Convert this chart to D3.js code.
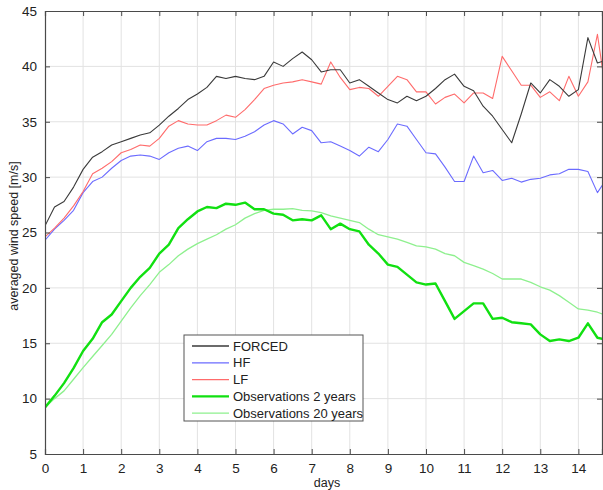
<!DOCTYPE html>
<html>
<head>
<meta charset="utf-8">
<script src="https://cdn.jsdelivr.net/npm/d3@7"></script>
<style>
  html, body { margin: 0; padding: 0; background: #fff; }
  svg { display: block; font-family: "Liberation Sans", Arial, Helvetica, sans-serif; }
</style>
</head>
<body>
<svg id="chart" width="603" height="490"></svg>
<script>
// time axis in days, sampled every quarter day
const days = d3.range(0, 14.76, 0.25);

const forced = [25.6, 27.3, 27.8, 29.1, 30.7, 31.8, 32.3, 32.9, 33.2, 33.5, 33.8, 34.0, 34.7, 35.5, 36.2, 37.0,
  37.5, 38.1, 39.1, 38.9, 39.1, 38.9, 38.8, 39.1, 40.4, 40.0, 40.7, 41.3, 40.6, 39.5, 39.7, 39.7,
  38.5, 38.8, 38.2, 37.6, 37.0, 36.7, 37.3, 36.9, 37.3, 38.0, 38.8, 39.3, 38.2, 37.8, 36.4, 35.5,
  34.3, 33.1, 35.7, 38.5, 37.6, 38.8, 38.2, 37.3, 37.9, 42.6, 40.3, 40.6];

const hf = [24.3, 25.3, 26.1, 27.0, 28.6, 29.6, 30.0, 30.8, 31.5, 31.9, 32.0, 31.9, 31.6, 32.2, 32.6, 32.8,
  32.4, 33.2, 33.5, 33.5, 33.4, 33.7, 34.1, 34.7, 35.1, 34.8, 33.9, 34.5, 34.2, 33.1, 33.2, 32.8,
  32.4, 31.9, 32.7, 32.3, 33.4, 34.8, 34.6, 33.4, 32.2, 32.1, 30.9, 29.6, 29.6, 31.9, 30.4, 30.6,
  29.7, 29.9, 29.55, 29.8, 29.9, 30.2, 30.3, 30.7, 30.7, 30.5, 28.6, 29.9];

const lf = [24.6, 25.4, 26.3, 27.4, 28.7, 30.3, 30.8, 31.4, 32.2, 32.5, 32.9, 32.8, 33.5, 34.6, 35.1, 34.8,
  34.7, 34.7, 35.1, 35.6, 35.4, 36.1, 37.0, 38.0, 38.3, 38.5, 38.6, 38.8, 38.6, 38.4, 40.4, 39.0,
  37.9, 38.1, 38.0, 37.3, 38.2, 39.1, 38.8, 37.7, 37.7, 36.6, 37.2, 37.5, 36.7, 37.6, 37.6, 37.1,
  40.9, 39.6, 38.3, 38.3, 37.2, 37.7, 36.9, 39.1, 37.3, 38.6, 42.9, 37.0];

const obs2 = [9.2, 10.25, 11.4, 12.75, 14.3, 15.4, 16.9, 17.6, 18.8, 20.0, 21.0, 21.8, 23.1, 23.9, 25.4, 26.2,
  26.9, 27.3, 27.2, 27.6, 27.5, 27.7, 27.1, 27.1, 26.7, 26.6, 26.1, 26.2, 26.1, 26.55, 25.3, 25.8,
  25.3, 25.1, 23.9, 23.1, 22.1, 21.9, 21.2, 20.5, 20.3, 20.4, 18.8, 17.2, 17.9, 18.6, 18.6, 17.2,
  17.3, 16.9, 16.8, 16.7, 15.8, 15.2, 15.35, 15.2, 15.5, 16.8, 15.5, 15.3];

const obs20 = [9.2, 10.0, 10.7, 11.75, 12.8, 13.8, 14.8, 15.8, 17.0, 18.2, 19.3, 20.3, 21.4, 22.1, 22.9, 23.5,
  24.0, 24.4, 24.8, 25.3, 25.7, 26.3, 26.7, 27.0, 27.1, 27.1, 27.15, 27.0, 26.95, 26.8, 26.5, 26.3,
  26.1, 25.9, 25.3, 24.8, 24.6, 24.4, 24.1, 23.8, 23.7, 23.5, 23.1, 22.9, 22.3, 22.0, 21.7, 21.3,
  20.8, 20.8, 20.8, 20.5, 20.1, 19.8, 19.3, 18.7, 18.1, 18.0, 17.8, 17.5];

const seriesNames = ["FORCED", "HF", "LF", "Observations 2 years", "Observations 20 years"];
const seriesValues = [forced, hf, lf, obs2, obs20];
const seriesColors = ["#3a3a3a", "#6b6bff", "#ff6b6b", "#11e011", "#8ef08e"];
const seriesWidths = [1.1, 1.1, 1.1, 2.4, 1.3];

const xTicks = d3.range(0, 15, 1);
const yTicks = d3.range(5, 46, 5);

const svg = d3.select("#chart");
const plotLeft = 45, plotRight = 602, plotTop = 11, plotBottom = 454;
const xMax = 14.62;

const x = d3.scaleLinear().domain([0, xMax]).range([plotLeft, plotRight]);
const y = d3.scaleLinear().domain([5, 45]).range([plotBottom, plotTop]);

// clip region for the plot area
svg.append("defs").append("clipPath").attr("id", "plotClip")
  .append("rect").attr("x", plotLeft).attr("y", plotTop)
  .attr("width", plotRight - plotLeft).attr("height", plotBottom - plotTop);

// grid
const grid = svg.append("g");
grid.selectAll("line.gx").data(xTicks.filter(d => d > 0)).join("line")
  .attr("x1", d => x(d)).attr("x2", d => x(d)).attr("y1", plotTop).attr("y2", plotBottom)
  .attr("stroke", "#e2e2e2").attr("stroke-width", 1);
grid.selectAll("line.gy").data(yTicks.filter(d => d > 5 && d < 45)).join("line")
  .attr("y1", d => y(d)).attr("y2", d => y(d)).attr("x1", plotLeft).attr("x2", plotRight)
  .attr("stroke", "#e2e2e2").attr("stroke-width", 1);

// series lines
const line = d3.line().x((d, i) => x(days[i])).y(d => y(d));
const plot = svg.append("g").attr("clip-path", "url(#plotClip)");
// observations first so the model lines sit above them
const order = [4, 3, 1, 2, 0];
order.forEach(k => {
  plot.append("path").datum(seriesValues[k])
    .attr("d", line).attr("fill", "none")
    .attr("stroke", seriesColors[k]).attr("stroke-width", seriesWidths[k])
    .attr("stroke-linejoin", "round");
});

// box axes (ticks point inward)
const axisColor = "#4a4a4a";
const xAxis = svg.append("g").attr("transform", `translate(0,${plotBottom})`)
  .call(d3.axisBottom(x).tickValues(xTicks).tickFormat(d3.format("d")).tickSize(-5).tickPadding(9));
const xTop = svg.append("g").attr("transform", `translate(0,${plotTop})`)
  .call(d3.axisTop(x).tickValues(xTicks).tickFormat("").tickSize(-5));
const yAxis = svg.append("g").attr("transform", `translate(${plotLeft},0)`)
  .call(d3.axisLeft(y).tickValues(yTicks).tickFormat(d3.format("d")).tickSize(-5).tickPadding(8));
const yRight = svg.append("g").attr("transform", `translate(${plotRight},0)`)
  .call(d3.axisRight(y).tickValues(yTicks).tickFormat("").tickSize(-5));

[xAxis, xTop, yAxis, yRight].forEach(g => {
  g.select(".domain").attr("stroke", axisColor).attr("stroke-width", 1.2);
  g.selectAll(".tick line").attr("stroke", axisColor);
  g.selectAll(".tick text").attr("fill", "#222").style("font-size", "13.5px")
    .style("font-family", "'Liberation Sans', Arial, sans-serif");
});

// axis titles
svg.append("text").attr("x", 327).attr("y", 487).attr("text-anchor", "middle")
  .attr("fill", "#222").style("font-size", "12.5px").text("days");
svg.append("text").attr("transform", "translate(18,236) rotate(-90)")
  .attr("text-anchor", "middle").attr("fill", "#222").style("font-size", "12.5px")
  .text("averaged wind speed [m/s]");

// legend
const lg = svg.append("g").attr("transform", "translate(184,335)");
lg.append("rect").attr("width", 179).attr("height", 86)
  .attr("fill", "#fff").attr("stroke", "#555").attr("stroke-width", 1);
seriesNames.forEach((name, i) => {
  const yy = 11 + i * 16.8;
  lg.append("line").attr("x1", 8).attr("x2", 45).attr("y1", yy).attr("y2", yy)
    .attr("stroke", seriesColors[i]).attr("stroke-width", i === 3 ? 2.2 : 1.3);
  lg.append("text").attr("x", 49).attr("y", yy).attr("dy", "0.36em")
    .attr("fill", "#222").style("font-size", "13px").text(name);
});
</script>
</body>
</html>
